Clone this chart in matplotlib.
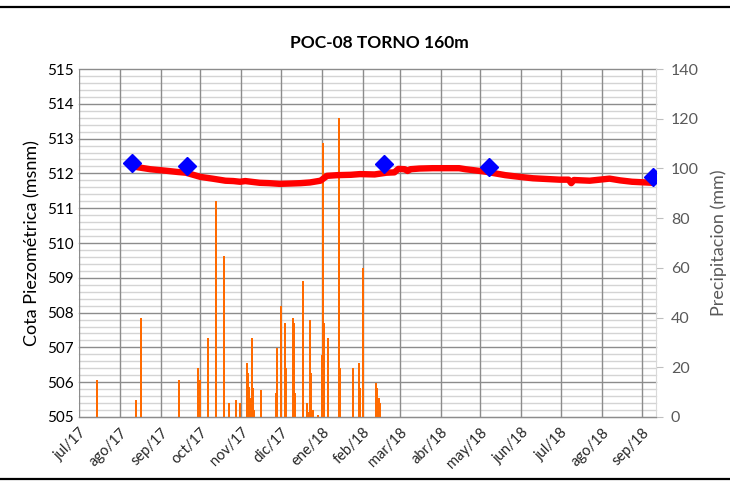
import numpy as np
import pandas as pd
import matplotlib
matplotlib.use('Agg')
import matplotlib.pyplot as plt
from matplotlib.lines import Line2D

plt.rcParams['font.family'] = ['Lato', 'DejaVu Sans']

# nivel piezometrico continuo (msnm)
nivel_fechas = ['2017-08-14', '2017-08-24', '2017-09-04', '2017-09-14', '2017-09-20',
                '2017-10-01', '2017-10-10', '2017-10-20', '2017-10-26', '2017-10-31',
                '2017-11-04', '2017-11-15', '2017-11-22', '2017-11-30', '2017-12-09',
                '2017-12-16', '2017-12-23', '2017-12-31', '2018-01-05', '2018-01-13',
                '2018-01-23', '2018-01-30', '2018-02-10', '2018-02-19', '2018-02-25',
                '2018-02-28', '2018-03-05', '2018-03-07', '2018-03-09', '2018-03-16',
                '2018-03-26', '2018-04-15', '2018-04-20', '2018-05-05', '2018-05-20',
                '2018-05-31', '2018-06-10', '2018-06-30', '2018-07-07', '2018-07-09',
                '2018-07-11', '2018-07-23', '2018-08-07', '2018-08-15', '2018-08-24',
                '2018-09-09']
nivel_cota = [512.18, 512.12, 512.08, 512.04, 512.02,
              511.90, 511.85, 511.79, 511.78, 511.76,
              511.78, 511.73, 511.72, 511.70, 511.71,
              511.72, 511.74, 511.79, 511.93, 511.95,
              511.96, 511.98, 511.97, 512.02, 512.03,
              512.13, 512.12, 512.07, 512.12, 512.14,
              512.15, 512.15, 512.12, 512.05, 511.95,
              511.90, 511.86, 511.82, 511.82, 511.72,
              511.81, 511.79, 511.85, 511.80, 511.76,
              511.73]

# medidas manuales
manual_fechas = ['2017-08-10', '2017-09-21', '2018-02-17', '2018-05-08', '2018-09-09']
manual_cota = [512.29, 512.22, 512.27, 512.19, 511.89]

# precipitacion diaria (mm)
lluvia_fechas = ['2017-07-15', '2017-08-13', '2017-08-17', '2017-09-15', '2017-09-29',
                 '2017-10-01', '2017-10-07', '2017-10-13', '2017-10-19', '2017-10-23',
                 '2017-10-28', '2017-10-31', '2017-11-05', '2017-11-06', '2017-11-07',
                 '2017-11-08', '2017-11-09', '2017-11-10', '2017-11-11', '2017-11-16',
                 '2017-11-27', '2017-11-28', '2017-12-01', '2017-12-04', '2017-12-05',
                 '2017-12-10', '2017-12-11', '2017-12-12', '2017-12-18', '2017-12-21',
                 '2017-12-22', '2017-12-23', '2017-12-24', '2017-12-25', '2017-12-29',
                 '2018-01-01', '2018-01-02', '2018-01-03', '2018-01-06', '2018-01-14',
                 '2018-01-15', '2018-01-25', '2018-01-29', '2018-01-30', '2018-02-01',
                 '2018-02-11', '2018-02-12', '2018-02-13', '2018-02-14']
lluvia_mm = [15.0, 6.8, 39.7, 14.9, 19.6,
             14.9, 31.7, 86.9, 64.9, 5.5,
             6.8, 5.5, 21.6, 17.6, 12.0,
             7.5, 31.7, 11.5, 2.8, 10.9,
             9.5, 27.6, 44.8, 37.7, 19.6,
             39.7, 37.7, 9.5, 54.8, 5.5,
             2.0, 39.0, 17.6, 2.8, 0.8,
             24.9, 110.1, 37.7, 31.7, 120.2,
             19.6, 19.6, 21.6, 11.5, 59.8,
             13.5, 11.5, 7.5, 5.5]

meses = pd.date_range('2017-07-01', '2018-09-01', freq='MS')
mes_labels = ['jul/17', 'ago/17', 'sep/17', 'oct/17', 'nov/17', 'dic/17', 'ene/18',
              'feb/18', 'mar/18', 'abr/18', 'may/18', 'jun/18', 'jul/18', 'ago/18', 'sep/18']

fig = plt.figure(figsize=(7.3, 4.86), dpi=100)
ax = fig.add_axes([0.1082, 0.142, 0.790, 0.716])
ax2 = ax.twinx()
ax.set_zorder(ax2.get_zorder() + 1)  # nivel por encima de las barras
ax.patch.set_visible(False)

# grilla dibujada en ax2 para que quede bajo las barras
ytr = ax.get_yaxis_transform()
for v in np.arange(505, 515.01, 0.2):
    mayor = abs(v - round(v)) < 1e-6
    ax2.plot([0, 1], [v, v], transform=ytr, color='#8c8c8c' if mayor else '#d4d4d4',
             lw=1.0, zorder=0.5 if mayor else 0.3, clip_on=False)
for m in meses:
    ax2.axvline(m, color='#8c8c8c', lw=1.0, zorder=0.5)

ax2.bar(pd.to_datetime(lluvia_fechas), lluvia_mm, width=1.5, color='#ff6a00', zorder=2)

ax.plot(pd.to_datetime(nivel_fechas), nivel_cota, color='#ff0000', lw=4.6,
        solid_capstyle='round', solid_joinstyle='round', zorder=3)
ax.plot(pd.to_datetime(manual_fechas), manual_cota, 'D', color='#0000ff',
        markersize=9, zorder=4)

ax.set_xlim(pd.Timestamp('2017-07-01'), pd.Timestamp('2018-09-11'))
ax.set_ylim(505, 515)
ax2.set_ylim(0, 140)

ax.set_yticks(range(505, 516))
ax.set_xticks(meses)
ax.set_xticklabels(mes_labels, rotation=45, ha='right', rotation_mode='anchor')
ax.tick_params(axis='both', length=0, labelsize=11, colors='black')
ax.tick_params(axis='x', labelsize=10.5, pad=6, labelcolor='#262626')

ax2.set_yticks(range(0, 141, 20))
ax2.tick_params(axis='y', length=5, color='#bfbfbf', labelsize=11.5, labelcolor='#595959', pad=6)

for s in ax.spines.values():
    s.set_visible(False)
for s in ['top', 'left', 'bottom']:
    ax2.spines[s].set_visible(False)
ax2.spines['right'].set_color('#d9d9d9')
ax.spines['bottom'].set_visible(True)
ax.spines['bottom'].set_color('#8c8c8c')

ax.set_ylabel('Cota Piezométrica (msnm)', fontsize=13, color='black', labelpad=5)
ax2.set_ylabel('Precipitacion (mm)', fontsize=13, color='#595959', labelpad=8)
fig.text(0.52, 0.912, 'POC-08 TORNO 160m', fontsize=12.5, fontweight='bold',
         ha='center', va='center')

fig.add_artist(Line2D([0, 1], [0.986, 0.986], transform=fig.transFigure, color='black', lw=1.6))
fig.add_artist(Line2D([0, 1], [0.014, 0.014], transform=fig.transFigure, color='black', lw=1.6))

fig.savefig('out.png', dpi=100)
